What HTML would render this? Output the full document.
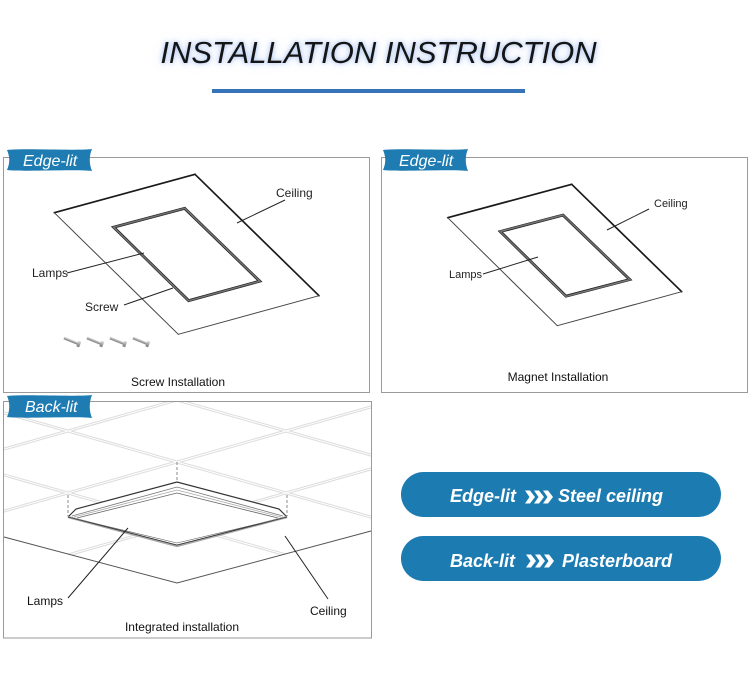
<!DOCTYPE html>
<html>
<head>
<meta charset="utf-8">
<style>
html,body{margin:0;padding:0;background:#fff;}
body{width:750px;height:694px;position:relative;overflow:hidden;font-family:"Liberation Sans",Arial,sans-serif;}
.title{position:absolute;left:0;top:31px;width:757px;text-align:center;font-family:"Liberation Sans",sans-serif;font-style:italic;font-size:31px;line-height:44px;color:#151515;letter-spacing:0px;text-shadow:0 0 4px rgba(120,160,235,0.6),0 0 9px rgba(160,190,245,0.6);}
svg{position:absolute;left:0;top:0;}
</style>
</head>
<body>
<svg width="750" height="694" viewBox="0 0 750 694" xmlns="http://www.w3.org/2000/svg" font-family="Liberation Sans, Arial, sans-serif">
  <defs>
    <linearGradient id="scr" x1="0" y1="0" x2="0" y2="1">
      <stop offset="0" stop-color="#e2e2e2"/>
      <stop offset="0.5" stop-color="#a8a8a8"/>
      <stop offset="1" stop-color="#7a7a7a"/>
    </linearGradient>
    <clipPath id="gridclip">
      <polygon points="4,402 371,402 371,531 177,583 4,537"/>
    </clipPath>
  </defs>

  <!-- underline -->
  <rect x="212" y="89" width="313" height="4" fill="#3673b9"/>

  <!-- Panel borders -->
  <rect x="3.5" y="157.5" width="366" height="235" fill="none" stroke="#9a9a9a" stroke-width="1"/>
  <rect x="381.5" y="157.5" width="366" height="235" fill="none" stroke="#9a9a9a" stroke-width="1"/>
  <rect x="3.5" y="401.5" width="368" height="236.5" fill="none" stroke="#9a9a9a" stroke-width="1"/>

  <!-- ===== Panel 1 ===== -->
  <g stroke-linecap="round">
    <line x1="54.3" y1="212.7" x2="195" y2="174.3" stroke="#1a1a1a" stroke-width="1.7"/>
    <line x1="195" y1="174.3" x2="319" y2="295.7" stroke="#1a1a1a" stroke-width="1.7"/>
    <line x1="319" y1="295.7" x2="178.3" y2="334.3" stroke="#444" stroke-width="1"/>
    <line x1="178.3" y1="334.3" x2="54.3" y2="212.7" stroke="#444" stroke-width="1"/>
  </g>
  <polygon points="111.7,226.7 185,207.3 261.7,281.7 188.3,301.7" fill="#c4c4c4" stroke="#333" stroke-width="0.9"/>
  <polygon points="113.6,227.2 184.7,208.4 259.8,281.2 188.5,300.6" fill="none" stroke="#555" stroke-width="0.6"/>
  <polygon points="115.6,227.7 184.4,209.5 257.8,280.7 188.9,299.5" fill="#fff" stroke="#222" stroke-width="0.9"/>
  <!-- leaders -->
  <g stroke="#222" stroke-width="1">
    <line x1="285" y1="200" x2="237" y2="223"/>
    <line x1="67" y1="273" x2="144" y2="253"/>
    <line x1="124" y1="305" x2="173" y2="288"/>
  </g>
  <g font-size="12" fill="#222">
    <text x="276" y="197">Ceiling</text>
    <text x="32" y="277">Lamps</text>
    <text x="85" y="311">Screw</text>
    <text x="178" y="386" text-anchor="middle" fill="#111">Screw Installation</text>
  </g>
  <!-- screws -->
  <g>
    <g transform="translate(64,338) rotate(22)"><rect x="0" y="-1.4" width="15" height="2.8" fill="url(#scr)"/><rect x="14.5" y="-3" width="3" height="6" fill="url(#scr)"/></g>
    <g transform="translate(87,338) rotate(22)"><rect x="0" y="-1.4" width="15" height="2.8" fill="url(#scr)"/><rect x="14.5" y="-3" width="3" height="6" fill="url(#scr)"/></g>
    <g transform="translate(110,338) rotate(22)"><rect x="0" y="-1.4" width="15" height="2.8" fill="url(#scr)"/><rect x="14.5" y="-3" width="3" height="6" fill="url(#scr)"/></g>
    <g transform="translate(133,338) rotate(22)"><rect x="0" y="-1.4" width="15" height="2.8" fill="url(#scr)"/><rect x="14.5" y="-3" width="3" height="6" fill="url(#scr)"/></g>
  </g>

  <!-- ===== Panel 2 ===== -->
  <g stroke-linecap="round">
    <line x1="447.7" y1="217.7" x2="571.7" y2="184.3" stroke="#1a1a1a" stroke-width="1.7"/>
    <line x1="571.7" y1="184.3" x2="681.7" y2="291.7" stroke="#1a1a1a" stroke-width="1.7"/>
    <line x1="681.7" y1="291.7" x2="557.3" y2="325.7" stroke="#444" stroke-width="1"/>
    <line x1="557.3" y1="325.7" x2="447.7" y2="217.7" stroke="#444" stroke-width="1"/>
  </g>
  <polygon points="498.3,231 563.3,214 631.7,280 565.7,297.3" fill="#c4c4c4" stroke="#333" stroke-width="0.9"/>
  <polygon points="500.2,231.5 563,215.1 629.8,279.5 565.9,296.2" fill="none" stroke="#555" stroke-width="0.6"/>
  <polygon points="502.2,232 562.7,216.2 627.8,279 566.3,295.1" fill="#fff" stroke="#222" stroke-width="0.9"/>
  <g stroke="#222" stroke-width="1">
    <line x1="649" y1="209" x2="607" y2="230"/>
    <line x1="483" y1="274" x2="538" y2="257"/>
  </g>
  <g font-size="11" fill="#222">
    <text x="654" y="207">Ceiling</text>
    <text x="449" y="278">Lamps</text>
  </g>
  <text x="558" y="381" font-size="12" text-anchor="middle" fill="#111">Magnet Installation</text>

  <!-- ===== Panel 3 ===== -->
  <g clip-path="url(#gridclip)" fill="none">
    <g stroke="#dcdcdc" stroke-width="3">
      <line x1="3" y1="350.6" x2="372" y2="455.4"/>
      <line x1="3" y1="412.6" x2="372" y2="517.4"/>
      <line x1="3" y1="474.6" x2="372" y2="579.4"/>
      <line x1="3" y1="449.4" x2="372" y2="344.6"/>
      <line x1="3" y1="511.4" x2="372" y2="406.6"/>
      <line x1="3" y1="573.4" x2="372" y2="468.6"/>
    </g>
    <g stroke="#fff" stroke-width="1">
      <line x1="3" y1="350.6" x2="372" y2="455.4"/>
      <line x1="3" y1="412.6" x2="372" y2="517.4"/>
      <line x1="3" y1="474.6" x2="372" y2="579.4"/>
      <line x1="3" y1="449.4" x2="372" y2="344.6"/>
      <line x1="3" y1="511.4" x2="372" y2="406.6"/>
      <line x1="3" y1="573.4" x2="372" y2="468.6"/>
    </g>
  </g>
  <!-- plane edge -->
  <polyline points="4,537 177,583 371,531" fill="none" stroke="#555" stroke-width="1"/>
  <!-- dashed verticals -->
  <g stroke="#888" stroke-width="1" stroke-dasharray="3,2">
    <line x1="177" y1="462" x2="177" y2="483"/>
    <line x1="68" y1="495" x2="68" y2="516"/>
    <line x1="287" y1="495" x2="287" y2="516"/>
  </g>
  <!-- lamp -->
  <polygon points="68,517 76,509 177,482 279,509 287,517 177,546" fill="#fff" stroke="none"/>
  <polyline points="68,517 76,509 177,482 279,509 287,517" fill="none" stroke="#333" stroke-width="1.2"/>
  <polyline points="72,516 177,487 283,516" fill="none" stroke="#777" stroke-width="0.8"/>
  <polyline points="74,517 177,490 281,517" fill="none" stroke="#aaa" stroke-width="0.8"/>
  <polyline points="77,518 177,493 278,518" fill="none" stroke="#666" stroke-width="0.8"/>
  <polyline points="68,517 177,546 287,517" fill="none" stroke="#aaa" stroke-width="2.4"/>
  <polyline points="68,517 177,545 287,517" fill="none" stroke="#333" stroke-width="0.9"/>
  <polyline points="70,517.5 177,543 285,517.5" fill="none" stroke="#555" stroke-width="0.6"/>
  <!-- leaders -->
  <g stroke="#222" stroke-width="1">
    <line x1="68" y1="598" x2="128" y2="528"/>
    <line x1="328" y1="599" x2="285" y2="536"/>
  </g>
  <g font-size="12" fill="#111">
    <text x="27" y="605">Lamps</text>
    <text x="310" y="615">Ceiling</text>
    <text x="182" y="631" text-anchor="middle">Integrated installation</text>
  </g>

  <!-- ===== Tabs ===== -->
  <path d="M7,150 C27,148 72,151 92,149 C89,156 89,164 92,171 C72,169 27,172 7,170 C10,163 10,157 7,150 Z" fill="#1f7cb3"/>
  <text x="23" y="166" font-size="16" font-style="italic" fill="#fff">Edge-lit</text>
  <path d="M383,150 C403,148 448,151 468,149 C465,156 465,164 468,171 C448,169 403,172 383,170 C386,163 386,157 383,150 Z" fill="#1f7cb3"/>
  <text x="399" y="166" font-size="16" font-style="italic" fill="#fff">Edge-lit</text>
  <path d="M7,396 C27,394 72,397 92,395 C89,402 89,411 92,418 C72,416 27,419 7,417 C10,411 10,402 7,396 Z" fill="#1f7cb3"/>
  <text x="25" y="412" font-size="16" font-style="italic" fill="#fff">Back-lit</text>

  <!-- ===== Buttons ===== -->
  <rect x="401" y="472" width="320" height="45" rx="22.5" fill="#1c7bb0"/>
  <rect x="401" y="536" width="320" height="45" rx="22.5" fill="#1c7bb0"/>
  <g font-size="18" font-weight="bold" font-style="italic" fill="#fff">
    <text x="450" y="502">Edge-lit</text>
    <text x="558" y="502">Steel ceiling</text>
    <text x="450" y="567">Back-lit</text>
    <text x="562" y="567">Plasterboard</text>
  </g>
  <g fill="#fff">
    <g transform="translate(525,497)">
      <polygon points="0,-6.5 5,-6.5 10,0 5,6.5 0,6.5 4.5,0"/>
      <polygon points="9,-6.5 14,-6.5 19,0 14,6.5 9,6.5 13.5,0"/>
      <polygon points="18,-6.5 23,-6.5 28,0 23,6.5 18,6.5 22.5,0"/>
    </g>
    <g transform="translate(526,561)">
      <polygon points="0,-6.5 5,-6.5 10,0 5,6.5 0,6.5 4.5,0"/>
      <polygon points="9,-6.5 14,-6.5 19,0 14,6.5 9,6.5 13.5,0"/>
      <polygon points="18,-6.5 23,-6.5 28,0 23,6.5 18,6.5 22.5,0"/>
    </g>
  </g>
</svg>
<div class="title">INSTALLATION INSTRUCTION</div>
</body>
</html>
